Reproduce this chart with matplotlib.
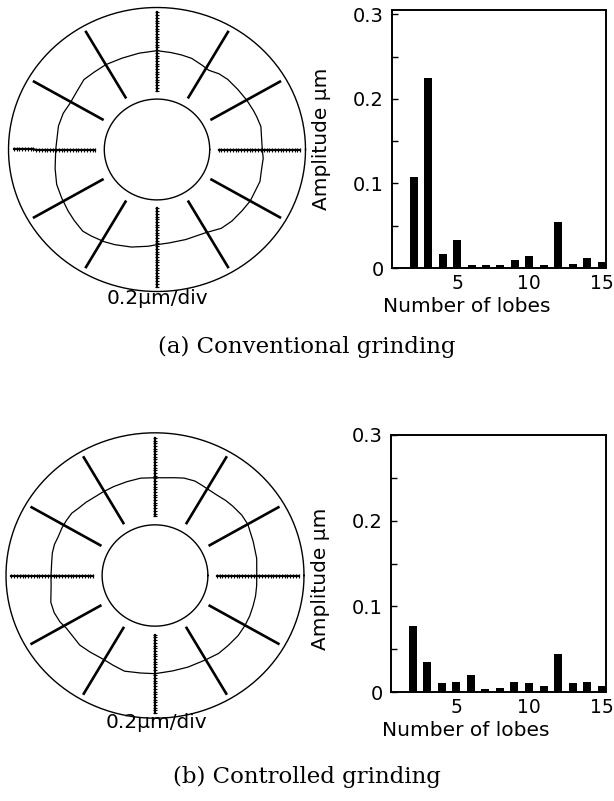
import numpy as np
import matplotlib
matplotlib.use("Agg")
import matplotlib.pyplot as plt

W, H = 614, 801

# spectrum data (number of lobes vs amplitude in um)
lobes = [2, 3, 4, 5, 6, 7, 8, 9, 10, 11, 12, 13, 14, 15]
amp_conventional = [0.108, 0.225, 0.017, 0.033, 0.003, 0.004, 0.004,
                    0.010, 0.014, 0.004, 0.054, 0.005, 0.012, 0.007]
amp_controlled = [0.077, 0.035, 0.010, 0.012, 0.020, 0.004, 0.005,
                  0.012, 0.011, 0.007, 0.044, 0.011, 0.012, 0.007]
xticks = [5, 10, 15]
yticks = [0, 0.1, 0.2, 0.3]
ytick_labels = ['0', '0.1', '0.2', '0.3']

# roundness profiles (angle deg, radius / outer ring)
ang_conventional = [0, 5, 13, 19, 23, 30, 38, 46, 52, 58, 63, 70, 76, 82,
                    90, 100, 110, 120, 128, 135, 143, 151, 158, 166, 180,
                    191, 200, 208, 216, 222, 229, 234, 241, 247, 256, 265,
                    270, 277, 287, 299, 308, 315, 323, 330, 336, 342, 350, 355]
rad_conventional = [0.709, 0.708, 0.718, 0.710, 0.705, 0.697, 0.689, 0.686,
                    0.677, 0.658, 0.667, 0.683, 0.686, 0.689, 0.696, 0.689,
                    0.685, 0.690, 0.690, 0.696, 0.677, 0.670, 0.681, 0.684,
                    0.682, 0.699, 0.719, 0.727, 0.739, 0.749, 0.762, 0.753,
                    0.741, 0.728, 0.708, 0.684, 0.670, 0.663, 0.663, 0.671,
                    0.704, 0.713, 0.717, 0.725, 0.723, 0.729, 0.717, 0.718]
ang_controlled = [0, 10, 20, 30, 36, 43, 48, 54, 57, 64, 68, 74, 79, 91, 98,
                  106, 114, 121, 125, 132, 138, 142, 147, 152, 157, 162, 167,
                  172, 180, 186, 195, 201, 207, 212, 218, 224, 231, 239, 246,
                  253, 262, 270, 280, 289, 300, 308, 315, 323, 330, 336, 342,
                  348, 354]
rad_controlled = [0.683, 0.693, 0.701, 0.719, 0.720, 0.713, 0.708, 0.700,
                  0.700, 0.707, 0.714, 0.710, 0.698, 0.685, 0.689, 0.684,
                  0.682, 0.682, 0.682, 0.691, 0.698, 0.709, 0.709, 0.708,
                  0.704, 0.709, 0.707, 0.700, 0.698, 0.701, 0.724, 0.725,
                  0.716, 0.700, 0.697, 0.702, 0.691, 0.682, 0.689, 0.701,
                  0.690, 0.688, 0.679, 0.679, 0.682, 0.693, 0.694, 0.699,
                  0.698, 0.696, 0.692, 0.690, 0.686]

INNER_R = 0.355
SPOKE_IN, SPOKE_OUT = 0.415, 0.965


def px_box(x0, y0, x1, y1):
    # pixel box (top-left origin) -> figure fraction
    return [x0 / W, 1 - y1 / H, (x1 - x0) / W, (y1 - y0) / H]


def draw_polar(box, ang, rad):
    ax = fig.add_axes(px_box(*box))
    ax.set_xlim(-1, 1)
    ax.set_ylim(-1, 1)
    ax.axis('off')
    t = np.linspace(0, 2 * np.pi, 400)
    ax.plot(np.cos(t), np.sin(t), color='k', lw=1.0, clip_on=False)
    ax.plot(INNER_R * np.cos(t), INNER_R * np.sin(t), color='k', lw=1.0)
    for a in range(0, 360, 30):
        c, s = np.cos(np.radians(a)), np.sin(np.radians(a))
        if a % 90 == 0:
            # scale spokes with division marks
            rr = np.linspace(SPOKE_IN, SPOKE_OUT, 30)
            ax.plot(rr * c, rr * s, color='k', lw=1.6,
                    marker='_' if a % 180 else '|', markersize=2.4, mew=0.8)
        else:
            ax.plot([SPOKE_IN * c, SPOKE_OUT * c], [SPOKE_IN * s, SPOKE_OUT * s],
                    color='k', lw=1.9, solid_capstyle='butt')
    th = np.radians(ang + [ang[0]])
    r = np.array(rad + [rad[0]])
    ax.plot(r * np.cos(th), r * np.sin(th), color='k', lw=0.9)
    return ax


def draw_bars(box, amp, ymax, ylab_y):
    ax = fig.add_axes(px_box(*box))
    ax.bar(lobes, amp, width=0.55, color='k', linewidth=0)
    ax.set_xlim(0.5, 15.3)
    ax.set_ylim(0, ymax)
    ax.set_xticks(xticks)
    ax.set_xticklabels([str(v) for v in xticks])
    ax.set_yticks(yticks)
    ax.set_yticklabels(ytick_labels)
    ax.set_yticks([0.05, 0.15, 0.25], minor=True)
    ax.tick_params(axis='y', which='both', direction='in', length=4, width=1,
                   labelsize=14, pad=6)
    ax.tick_params(axis='x', direction='in', length=0, labelsize=13.5, pad=4)
    for sp in ax.spines.values():
        sp.set_linewidth(1.4)
    ax.set_xlabel('Number of lobes', fontsize=14.5)
    ax.xaxis.set_label_coords(0.35, -0.15)
    ax.xaxis.label.set_va('center')
    ax.set_ylabel('Amplitude µm', fontsize=14.5)
    ax.yaxis.set_label_coords(-0.33, ylab_y)
    ax.yaxis.label.set_va('center')
    return ax


fig = plt.figure(figsize=(W / 100, H / 100), dpi=100)

draw_polar((8.5, 7.5, 305.5, 291.5), ang_conventional, rad_conventional)
draw_polar((6, 432.8, 304, 718.2), ang_controlled, rad_controlled)

draw_bars((392, 10, 606, 268), amp_conventional, 0.305, 0.5)
draw_bars((391, 435, 606, 692), amp_controlled, 0.3, 0.44)

fig.text(157 / W, 1 - 299 / H, '0.2µm/div', fontsize=14.5, ha='center', va='center')
fig.text(156 / W, 1 - 723 / H, '0.2µm/div', fontsize=14.5, ha='center', va='center')

fig.text(307 / W, 1 - 347 / H, '(a) Conventional grinding', fontsize=16.5,
         family='DejaVu Serif', ha='center', va='center')
fig.text(307 / W, 1 - 777 / H, '(b) Controlled grinding', fontsize=16.5,
         family='DejaVu Serif', ha='center', va='center')

fig.savefig('out.png', dpi=100)
